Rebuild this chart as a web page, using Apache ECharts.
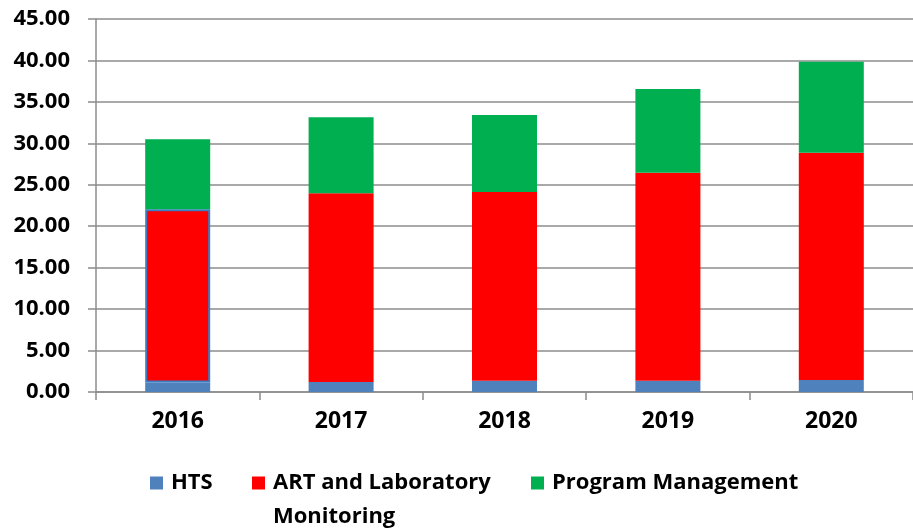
<!DOCTYPE html>
<html>
<head>
<meta charset="utf-8">
<script src="https://cdn.jsdelivr.net/npm/echarts@6/dist/echarts.min.js"></script>
<style>
  html, body { margin: 0; padding: 0; background: #fff; }
  #chart { width: 913px; height: 531px; }
</style>
</head>
<body>
<div id="chart"></div>
<script>
const years = ['2016', '2017', '2018', '2019', '2020'];
const htsValues = [1.15, 1.2, 1.35, 1.35, 1.45];
const artValues = [20.89, 22.77, 22.78, 25.11, 27.42];
const pmValues = [8.45, 9.17, 9.29, 10.09, 10.98];
const seriesNames = ['HTS', 'ART and Laboratory Monitoring', 'Program Management'];

const FONT = 'Open Sans';
const GRAY = '#8c8c8c';

const chart = echarts.init(document.getElementById('chart'), null, { renderer: 'canvas' });

const legendText = { fontFamily: FONT, fontWeight: 'bold', fontSize: 22, color: '#000', lineHeight: 34, padding: [0, 0, 0, 3] };

chart.setOption({
  animation: false,
  backgroundColor: '#fff',
  grid: { left: 96, right: -5, top: 19, bottom: 139, containLabel: false },
  legend: [
    {
      data: [seriesNames[0]], left: 150, top: 466, padding: 0,
      icon: 'rect', itemWidth: 13, itemHeight: 13, textStyle: legendText
    },
    {
      data: [seriesNames[1]], left: 252, top: 432, padding: 0,
      icon: 'rect', itemWidth: 13, itemHeight: 13,
      formatter: function () { return ' \nART and Laboratory\nMonitoring'; },
      textStyle: legendText
    },
    {
      data: [seriesNames[2]], left: 531, top: 466, padding: 0,
      icon: 'rect', itemWidth: 13, itemHeight: 13, textStyle: legendText
    }
  ],
  xAxis: {
    type: 'category',
    data: years,
    axisLine: { show: true, lineStyle: { color: GRAY, width: 1.5 } },
    axisTick: { show: true, length: 8, lineStyle: { color: GRAY, width: 1.5 } },
    axisLabel: { fontFamily: FONT, fontWeight: 'bold', fontSize: 23, color: '#000', margin: 18 }
  },
  yAxis: {
    type: 'value',
    min: 0, max: 45, interval: 5,
    axisLine: { show: true, lineStyle: { color: GRAY, width: 1.5 } },
    axisTick: { show: true, length: 8, lineStyle: { color: GRAY, width: 1.5 } },
    splitLine: { show: true, lineStyle: { color: GRAY, width: 1.5 } },
    axisLabel: {
      fontFamily: FONT, fontWeight: 'bold', fontSize: 22, color: '#000', margin: 26,
      formatter: function (v) { return v.toFixed(2); }
    }
  },
  series: [
    {
      name: seriesNames[0], type: 'bar', stack: 'total', barWidth: 65,
      itemStyle: { color: '#4f81bd' }, data: htsValues
    },
    {
      name: seriesNames[1], type: 'bar', stack: 'total', barWidth: 65,
      itemStyle: { color: '#ff0000' },
      data: artValues.map(function (v, i) {
        return i === 0 ? { value: v, itemStyle: { borderColor: '#3a7cc4', borderWidth: 2 } } : v;
      })
    },
    {
      name: seriesNames[2], type: 'bar', stack: 'total', barWidth: 65,
      itemStyle: { color: '#00b050' }, data: pmValues
    }
  ]
});
</script>
</body>
</html>
